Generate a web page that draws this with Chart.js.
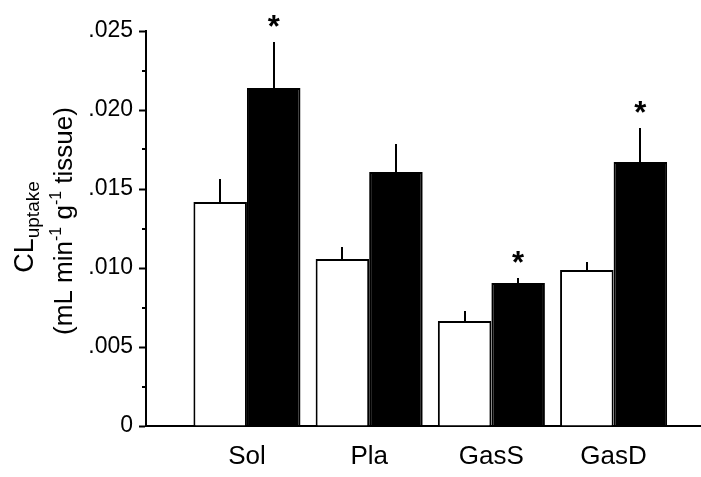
<!DOCTYPE html>
<html>
<head>
<meta charset="UTF-8">
<title>CL uptake by muscle</title>
<script src="https://cdn.jsdelivr.net/npm/chart.js"></script>
<style>
  body { margin: 0; background: #fff; }
  canvas { display: block; }
</style>
</head>
<body>
<canvas id="chart" width="701" height="477"></canvas>
<script>
// Values
const categories = ['Sol', 'Pla', 'GasS', 'GasD'];
const controlMeans = [0.01418, 0.01057, 0.00665, 0.00987];
const controlErrors = [0.00145, 0.00076, 0.00063, 0.00051];
const treatedMeans = [0.02139, 0.01608, 0.00905, 0.01671];
const treatedErrors = [0.00291, 0.00177, 0.00032, 0.00215];
const significant = [true, false, true, true];
const yMinorTicks = [0.0025, 0.0075, 0.0125, 0.0175, 0.0225];

const FONT = "'Liberation Sans', Arial, sans-serif";

// Upward-only error bars, significance stars and minor y ticks
const extrasPlugin = {
  id: 'extras',
  afterDatasetsDraw(chart) {
    const ctx = chart.ctx;
    const y = chart.scales.y;
    ctx.save();
    ctx.strokeStyle = '#000';
    ctx.lineWidth = 2;
    chart.data.datasets.forEach((ds, di) => {
      chart.getDatasetMeta(di).data.forEach((bar, i) => {
        const top = y.getPixelForValue(ds.data[i].y + ds.errors[i]);
        ctx.beginPath();
        ctx.moveTo(Math.round(bar.x), bar.y);
        ctx.lineTo(Math.round(bar.x), top);
        ctx.stroke();
        if (ds.stars && significant[i]) {
          ctx.fillStyle = '#000';
          ctx.font = 'bold 31px ' + FONT;
          ctx.textAlign = 'center';
          ctx.textBaseline = 'alphabetic';
          ctx.fillText('*', bar.x, top - 5);
        }
      });
    });
    // minor ticks
    const left = chart.chartArea.left;
    yMinorTicks.forEach(v => {
      const py = Math.round(y.getPixelForValue(v));
      ctx.beginPath();
      ctx.moveTo(left - 4, py);
      ctx.lineTo(left, py);
      ctx.stroke();
    });
    ctx.restore();
  },
  afterDraw(chart) {
    // rotated y axis title with sub/superscripts
    const ctx = chart.ctx;
    ctx.save();
    ctx.fillStyle = '#000';
    ctx.textBaseline = 'alphabetic';
    ctx.textAlign = 'left';

    const drawRun = (parts, baseX, centerY) => {
      let total = 0;
      parts.forEach(p => { ctx.font = p.size + 'px ' + FONT; total += ctx.measureText(p.text).width; });
      ctx.save();
      ctx.translate(baseX, centerY);
      ctx.rotate(-Math.PI / 2);
      let pos = -total / 2;
      parts.forEach(p => {
        ctx.font = p.size + 'px ' + FONT;
        ctx.fillText(p.text, pos, p.dy || 0);
        pos += ctx.measureText(p.text).width;
      });
      ctx.restore();
    };

    drawRun([
      { text: 'CL', size: 27 },
      { text: 'uptake', size: 19, dy: 6 }
    ], 33, 227);

    drawRun([
      { text: '(mL min', size: 26 },
      { text: '-1', size: 16, dy: -11 },
      { text: ' g', size: 26 },
      { text: '-1', size: 16, dy: -11 },
      { text: ' tissue)', size: 26 }
    ], 72, 221);
    ctx.restore();
  }
};

const ctx = document.getElementById('chart').getContext('2d');
new Chart(ctx, {
  type: 'bar',
  data: {
    datasets: [
      {
        label: 'Control',
        data: categories.map((c, i) => ({ x: i, y: controlMeans[i] })),
        errors: controlErrors,
        stars: false,
        backgroundColor: '#fff',
        borderColor: '#000',
        borderWidth: 2
      },
      {
        label: 'Treated',
        data: categories.map((c, i) => ({ x: i, y: treatedMeans[i] })),
        errors: treatedErrors,
        stars: true,
        backgroundColor: '#000',
        borderColor: '#000',
        borderWidth: 2
      }
    ]
  },
  options: {
    responsive: false,
    animation: false,
    layout: { padding: { top: 31, right: 1, left: 0, bottom: 0 } },
    datasets: { bar: { categoryPercentage: 0.876, barPercentage: 1 } },
    plugins: { legend: { display: false }, tooltip: { enabled: false } },
    scales: {
      x: {
        type: 'linear',
        offset: false,
        min: -0.826,
        max: 3.707,
        grid: { display: false, drawTicks: false },
        border: { color: '#000', width: 2 },
        ticks: {
          autoSkip: false,
          maxRotation: 0,
          padding: 15,
          color: '#000',
          font: { family: FONT, size: 26 },
          callback: v => categories[v] || ''
        },
        afterBuildTicks: s => { s.ticks = categories.map((c, i) => ({ value: i })); },
        afterFit: s => { s.height = 51; }
      },
      y: {
        min: 0,
        max: 0.025,
        grid: { drawOnChartArea: false, tickLength: 7, tickColor: '#000', tickWidth: 2 },
        border: { color: '#000', width: 2 },
        ticks: {
          stepSize: 0.005,
          padding: 6,
          color: '#000',
          font: { family: FONT, size: 23 },
          callback: v => v === 0 ? '0' : v.toFixed(3).replace(/^0/, '')
        },
        afterFit: s => { s.width = 146; }
      }
    }
  },
  plugins: [extrasPlugin]
});
</script>
</body>
</html>
